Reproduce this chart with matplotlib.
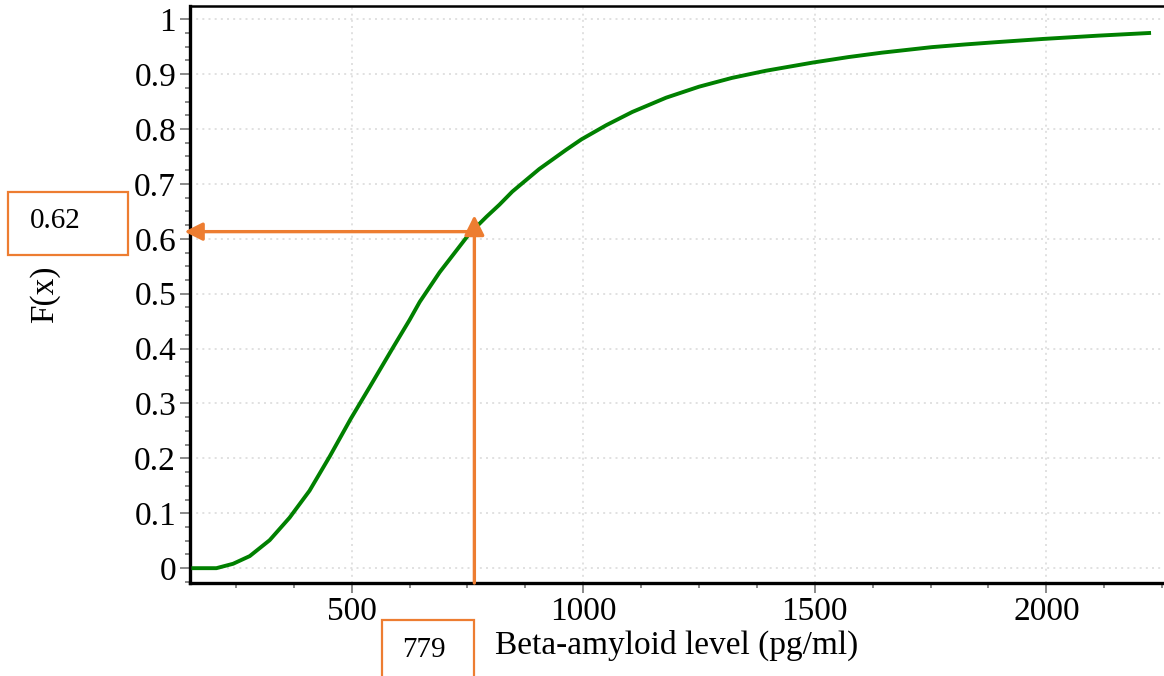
import matplotlib
matplotlib.use("Agg")
import matplotlib.pyplot as plt
from matplotlib.ticker import MultipleLocator
from matplotlib.patches import Rectangle

# Data (x: pg/ml, F: cumulative probability)
beta_level = [154, 208, 244, 280, 323, 366, 409, 453, 498, 539, 588, 625, 647,
              690, 754, 791, 819, 847, 905, 963, 996, 1050, 1106, 1179, 1250,
              1321, 1394, 1496, 1573, 1645, 1752, 1825, 1890, 1993, 2112, 2226]
cdf_values = [0.0, 0.0, 0.008, 0.022, 0.051, 0.092, 0.141, 0.204, 0.272, 0.330,
              0.400, 0.452, 0.485, 0.539, 0.609, 0.640, 0.662, 0.686, 0.727,
              0.762, 0.781, 0.807, 0.831, 0.857, 0.877, 0.893, 0.906, 0.921,
              0.931, 0.939, 0.949, 0.954, 0.958, 0.964, 0.970, 0.975]
x_ticks = [500, 1000, 1500, 2000]
y_ticks = [0, 0.1, 0.2, 0.3, 0.4, 0.5, 0.6, 0.7, 0.8, 0.9, 1]
y_tick_labels = ["0", "0.1", "0.2", "0.3", "0.4", "0.5", "0.6", "0.7", "0.8", "0.9", "1"]
marker_x = 765
marker_y = 0.613
marker_x_label = "779"
marker_y_label = "0.62"

plt.rcParams['font.family'] = ['Liberation Serif', 'DejaVu Serif']

W, H = 1164, 676
fig = plt.figure(figsize=(W/100, H/100), dpi=100)
ax = fig.add_axes([190/W, 1 - 583/H, 1 - 190/W, (583 - 6)/H])

orange = '#ED7D31'
ax.plot(beta_level, cdf_values, color='#008000', lw=2.8, solid_capstyle='butt', zorder=3)

xmin, xmax = 151, 2254
ymin, ymax = -0.027, 1.024
ax.set_xlim(xmin, xmax)
ax.set_ylim(ymin, ymax)

ax.set_xticks(x_ticks)
ax.set_xticklabels([str(v) for v in x_ticks])
ax.set_yticks(y_ticks)
ax.set_yticklabels(y_tick_labels)
ax.xaxis.set_minor_locator(MultipleLocator(125))
ax.yaxis.set_minor_locator(MultipleLocator(0.025))

ax.tick_params(axis='both', which='major', direction='out', length=7, width=1.3,
               color='#808080', labelsize=24, pad=3)
ax.tick_params(axis='both', which='minor', direction='out', length=3.5, width=1.3,
               color='#808080')

ax.grid(True, which='major', color='#dcdcdc', linestyle=(0, (1.2, 2.5)), lw=1.2)

for s in ['left', 'bottom']:
    ax.spines[s].set_linewidth(2.4)
    ax.spines[s].set_color('black')
ax.spines['top'].set_linewidth(1.8)
ax.spines['top'].set_color('black')
ax.spines['right'].set_visible(False)

ax.set_xlabel("Beta-amyloid level (pg/ml)", fontsize=24)
ax.xaxis.label.set_va('center')
ax.xaxis.set_label_coords(0.5, (583 - 645) / 577)
ax.set_ylabel("F(x)", fontsize=24)
ax.yaxis.label.set_va('center')
ax.yaxis.set_label_coords((45 - 190) / 974, 0.5)

# Annotation arrows
ax.annotate("", xy=(xmin - 12, marker_y), xytext=(marker_x, marker_y),
            xycoords='data', textcoords='data',
            arrowprops=dict(arrowstyle='-|>,head_length=0.9,head_width=0.45',
                            mutation_scale=12, color=orange, lw=2.4,
                            shrinkA=0, shrinkB=0),
            annotation_clip=False, zorder=5)
ax.annotate("", xy=(marker_x, 0.643), xytext=(marker_x, ymin),
            xycoords='data', textcoords='data',
            arrowprops=dict(arrowstyle='-|>,head_length=1.0,head_width=0.5',
                            mutation_scale=12, color=orange, lw=2.4,
                            shrinkA=0, shrinkB=0),
            annotation_clip=False, zorder=5)

# Boxes with labels (figure pixel coords)
def px_box(x0, y0, x1, y1):
    r = Rectangle((x0/W, 1 - y1/H), (x1 - x0)/W, (y1 - y0)/H,
                  transform=fig.transFigure, fill=True, facecolor='white',
                  edgecolor=orange, lw=1.6, clip_on=False)
    fig.add_artist(r)

px_box(8, 192, 128, 255)
fig.text(55/W, 1 - 221/H, marker_y_label, fontsize=21, ha='center', va='center')
px_box(382, 620, 474, 690)
fig.text(424/W, 1 - 650/H, marker_x_label, fontsize=21, ha='center', va='center')

fig.savefig("out.png", dpi=100)
